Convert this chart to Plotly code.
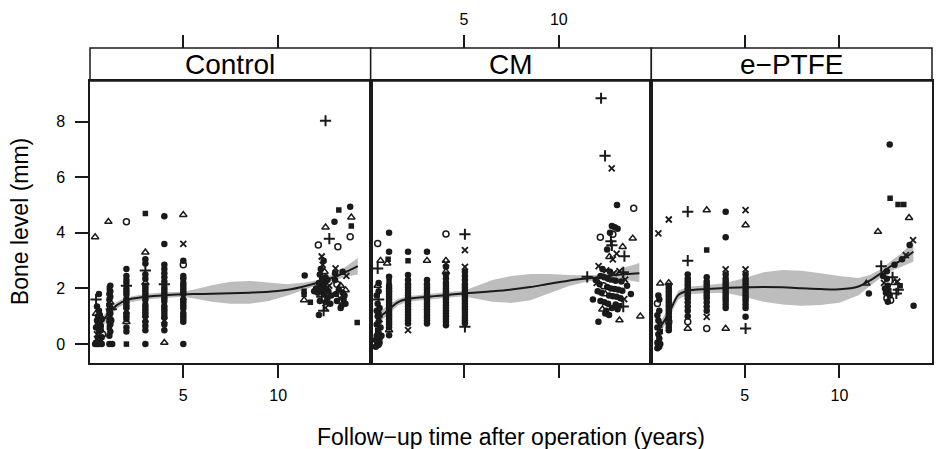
import plotly.graph_objects as go

# ---------------- data ----------------
PANELS = ["Control", "CM", "e\u2212PTFE"]
X_TICKS = [5, 10]
Y_TICKS = [0, 2, 4, 6, 8]

# points: (years, bone level mm, symbol code)
CTRL_PTS = [
    (0.45,0.00,'d'),(0.55,0.00,'d'),(0.65,0.02,'d'),(0.40,0.05,'s'),(0.60,0.10,'d'),(0.50,0.20,'d'),
    (0.70,0.25,'d'),(0.45,0.35,'x'),(0.55,0.45,'d'),(0.65,0.50,'d'),(0.40,0.60,'d'),(0.50,0.70,'d'),
    (0.60,0.75,'s'),(0.45,0.85,'d'),(0.70,0.90,'d'),(0.50,1.00,'d'),(0.60,1.05,'d'),(0.40,1.10,'t'),
    (0.55,1.20,'d'),(0.45,1.35,'d'),(0.40,1.60,'p'),(0.55,1.80,'d'),(0.35,3.85,'t'),(0.70,0.00,'d'),
    (0.35,0.00,'d'),(0.65,0.65,'d'),(0.75,0.35,'o'),
    (1.10,0.00,'d'),(1.25,0.00,'d'),(1.10,0.30,'d'),(1.15,0.45,'d'),(1.10,0.60,'s'),(1.15,0.70,'d'),
    (1.10,0.80,'d'),(1.15,0.90,'d'),(1.10,1.00,'x'),(1.15,1.10,'d'),(1.10,1.20,'d'),(1.15,1.30,'d'),
    (1.10,1.40,'d'),(1.15,1.50,'t'),(1.10,1.60,'d'),(1.15,1.70,'d'),(1.10,1.80,'d'),(1.15,1.90,'d'),
    (1.10,2.00,'s'),(1.15,2.10,'d'),(1.05,4.40,'t'),(1.20,1.25,'p'),(1.20,0.85,'d'),
    (2.0,0.00,'s'),(2.0,0.45,'d'),(2.0,0.60,'d'),(2.0,0.80,'t'),(2.0,0.90,'d'),(2.0,1.00,'d'),
    (2.0,1.10,'d'),(2.0,1.20,'x'),(2.0,1.30,'d'),(2.0,1.40,'d'),(2.0,1.50,'d'),(2.0,1.60,'d'),
    (2.0,1.70,'s'),(2.0,1.80,'d'),(2.0,1.90,'d'),(2.0,2.00,'d'),(2.0,2.10,'p'),(2.0,2.20,'d'),
    (2.0,2.30,'d'),(2.0,2.45,'d'),(2.0,2.70,'d'),(2.0,4.40,'o'),
    (3.0,0.00,'d'),(3.0,0.50,'d'),(3.0,0.65,'d'),(3.0,0.80,'d'),(3.0,0.90,'x'),(3.0,1.00,'d'),
    (3.0,1.10,'d'),(3.0,1.20,'d'),(3.0,1.30,'d'),(3.0,1.40,'d'),(3.0,1.50,'s'),(3.0,1.60,'d'),
    (3.0,1.70,'d'),(3.0,1.80,'d'),(3.0,1.90,'d'),(3.0,2.00,'d'),(3.0,2.10,'d'),(3.0,2.20,'t'),
    (3.0,2.35,'d'),(3.0,2.50,'d'),(3.0,2.65,'p'),(3.0,2.90,'d'),(3.0,3.05,'d'),(3.0,3.30,'t'),
    (3.0,4.70,'s'),
    (4.0,0.05,'t'),(4.0,0.50,'d'),(4.0,0.70,'d'),(4.0,0.85,'x'),(4.0,0.95,'d'),(4.0,1.05,'d'),
    (4.0,1.15,'d'),(4.0,1.25,'d'),(4.0,1.35,'d'),(4.0,1.45,'s'),(4.0,1.55,'d'),(4.0,1.65,'d'),
    (4.0,1.75,'d'),(4.0,1.85,'d'),(4.0,1.95,'d'),(4.0,2.05,'d'),(4.0,2.15,'p'),(4.0,2.25,'d'),
    (4.0,2.40,'d'),(4.0,2.55,'d'),(4.0,2.70,'d'),(4.0,2.85,'d'),(4.0,3.60,'d'),(4.0,4.60,'d'),
    (5.0,0.00,'d'),(5.0,0.80,'d'),(5.0,0.90,'d'),(5.0,1.00,'d'),(5.0,1.10,'d'),(5.0,1.20,'s'),
    (5.0,1.30,'d'),(5.0,1.40,'d'),(5.0,1.50,'d'),(5.0,1.60,'d'),(5.0,1.70,'x'),(5.0,1.80,'d'),
    (5.0,1.90,'d'),(5.0,2.00,'d'),(5.0,2.10,'d'),(5.0,2.20,'d'),(5.0,2.35,'d'),(5.0,2.45,'d'),
    (5.0,2.85,'o'),(5.0,3.00,'d'),(5.0,3.60,'x'),(5.0,4.65,'t'),
    (12.50,8.03,'p'),(13.20,4.82,'s'),(13.80,4.94,'d'),(13.86,4.56,'t'),(13.86,4.25,'s'),(12.97,4.40,'d'),
    (12.50,4.20,'t'),(12.12,3.56,'o'),(12.70,3.79,'p'),(13.15,3.50,'o'),(13.80,3.86,'o'),(11.40,2.47,'d'),
    (11.37,1.90,'s'),(11.37,1.78,'s'),(11.37,1.58,'t'),(11.70,1.50,'s'),(14.17,0.78,'s'),(12.15,1.05,'d'),
    (12.40,1.20,'p'),(12.50,1.30,'x'),(12.30,3.15,'x'),(12.40,3.00,'d'),(12.35,2.85,'x'),(12.25,2.70,'d'),
    (12.45,2.60,'t'),(12.20,2.50,'d'),(12.50,2.40,'d'),(12.30,2.35,'s'),(12.60,2.30,'d'),(12.15,2.20,'d'),
    (12.40,2.15,'d'),(12.70,2.10,'x'),(12.25,2.05,'d'),(12.55,2.00,'d'),(12.35,1.95,'s'),(12.65,1.90,'d'),
    (12.10,1.85,'d'),(12.45,1.80,'d'),(12.80,1.75,'d'),(12.30,1.70,'p'),(12.60,1.65,'d'),(12.20,1.55,'d'),
    (12.50,1.50,'d'),(12.75,1.45,'d'),(12.00,2.00,'d'),(11.90,1.90,'d'),(13.00,2.30,'d'),(13.10,2.15,'o'),
    (13.30,2.10,'t'),(13.20,1.95,'d'),(13.40,1.85,'d'),(13.05,1.80,'d'),(13.50,1.75,'d'),(13.25,1.65,'x'),
    (13.45,1.60,'d'),(13.10,1.55,'d'),(13.55,1.45,'d'),(13.35,1.40,'d'),(13.60,2.45,'x'),(13.40,2.60,'d'),
    (13.00,2.55,'d'),(13.03,2.72,'x'),(13.56,1.94,'t'),(13.30,1.30,'d'),
]

CM_PTS = [
    (0.40,-0.05,'d'),(0.50,-0.02,'d'),(0.45,0.10,'d'),(0.55,0.20,'d'),(0.40,0.30,'d'),(0.50,0.40,'d'),
    (0.45,0.50,'s'),(0.60,0.60,'d'),(0.40,0.70,'d'),(0.50,0.80,'d'),(0.55,0.90,'x'),(0.45,1.00,'d'),
    (0.50,1.10,'d'),(0.40,1.20,'d'),(0.55,1.30,'d'),(0.45,1.45,'d'),(0.50,1.60,'p'),(0.40,1.75,'d'),
    (0.50,1.90,'d'),(0.45,2.10,'t'),(0.50,2.20,'d'),(0.45,2.72,'p'),(0.60,3.00,'t'),(0.45,3.62,'o'),
    (0.65,0.30,'d'),(0.35,0.15,'d'),(0.35,-0.10,'d'),(0.55,0.05,'d'),
    (1.05,0.32,'d'),(1.05,0.50,'t'),(1.05,0.60,'d'),(1.05,0.70,'d'),(1.05,0.80,'d'),(1.05,0.90,'d'),
    (1.05,1.00,'d'),(1.05,1.10,'d'),(1.05,1.20,'d'),(1.05,1.30,'d'),(1.05,1.40,'d'),(1.05,1.50,'d'),
    (1.05,1.60,'d'),(1.05,1.70,'d'),(1.05,1.80,'d'),(1.05,1.90,'d'),(1.05,2.00,'d'),(1.05,2.10,'d'),
    (1.05,2.25,'s'),(1.05,2.42,'d'),(0.95,2.90,'t'),(1.00,3.05,'s'),(1.05,3.32,'d'),(1.05,4.00,'d'),
    (2.05,0.50,'x'),(2.05,0.74,'d'),(2.05,0.85,'d'),(2.05,0.95,'d'),(2.05,1.05,'d'),(2.05,1.15,'d'),
    (2.05,1.25,'d'),(2.05,1.35,'d'),(2.05,1.45,'d'),(2.05,1.55,'d'),(2.05,1.65,'d'),(2.05,1.75,'d'),
    (2.05,1.85,'d'),(2.05,1.95,'d'),(2.05,2.05,'d'),(2.05,2.15,'d'),(2.05,2.30,'d'),(2.05,2.48,'d'),
    (2.05,3.00,'s'),(2.05,3.32,'d'),
    (3.05,0.74,'d'),(3.05,0.85,'d'),(3.05,0.95,'d'),(3.05,1.05,'d'),(3.05,1.15,'d'),(3.05,1.25,'d'),
    (3.05,1.35,'d'),(3.05,1.45,'d'),(3.05,1.55,'d'),(3.05,1.65,'d'),(3.05,1.75,'d'),(3.05,1.85,'d'),
    (3.05,1.95,'d'),(3.05,2.05,'d'),(3.05,2.15,'d'),(3.05,2.30,'d'),(3.05,3.00,'t'),(3.05,3.32,'d'),
    (4.05,0.68,'d'),(4.05,0.80,'d'),(4.05,0.90,'d'),(4.05,1.00,'d'),(4.05,1.10,'d'),(4.05,1.20,'d'),
    (4.05,1.30,'d'),(4.05,1.40,'d'),(4.05,1.50,'d'),(4.05,1.60,'d'),(4.05,1.70,'d'),(4.05,1.80,'d'),
    (4.05,1.90,'d'),(4.05,2.00,'d'),(4.05,2.10,'d'),(4.05,2.20,'d'),(4.05,2.35,'d'),(4.05,2.50,'d'),
    (4.05,2.60,'t'),(4.05,2.78,'d'),(4.05,2.90,'x'),(4.05,3.00,'t'),(4.05,3.96,'o'),
    (5.05,0.62,'p'),(5.05,0.75,'d'),(5.05,0.85,'d'),(5.05,0.95,'d'),(5.05,1.05,'d'),(5.05,1.15,'d'),
    (5.05,1.25,'d'),(5.05,1.35,'d'),(5.05,1.45,'d'),(5.05,1.55,'d'),(5.05,1.65,'d'),(5.05,1.75,'d'),
    (5.05,1.85,'d'),(5.05,1.95,'d'),(5.05,2.05,'d'),(5.05,2.15,'d'),(5.05,2.30,'d'),(5.05,2.45,'d'),
    (5.05,2.60,'d'),(5.05,2.78,'x'),(5.05,3.38,'x'),(5.05,3.95,'p'),
    (12.23,8.84,'p'),(12.44,6.77,'p'),(12.79,6.32,'x'),(13.07,5.00,'d'),(13.95,4.88,'o'),(12.80,4.25,'d'),
    (12.95,4.20,'d'),(13.10,4.15,'d'),(12.70,4.00,'d'),(12.19,3.84,'o'),(12.85,3.95,'o'),(12.75,3.70,'p'),
    (13.90,3.80,'t'),(13.37,3.50,'t'),(12.80,3.55,'p'),(13.46,3.16,'p'),(12.67,3.14,'t'),(12.85,3.05,'x'),
    (13.05,3.25,'x'),(12.55,3.40,'d'),
    (12.10,2.80,'x'),(12.30,2.70,'d'),(12.50,2.65,'x'),(12.70,2.60,'d'),(12.90,2.55,'x'),(13.20,2.62,'x'),
    (13.40,2.58,'p'),(12.20,2.45,'d'),(12.40,2.40,'d'),(12.60,2.35,'d'),(12.80,2.30,'s'),(13.00,2.28,'d'),
    (13.30,2.25,'d'),(13.50,2.32,'x'),(12.15,2.15,'d'),(12.35,2.10,'o'),(12.55,2.05,'d'),(12.75,2.00,'d'),
    (12.95,1.98,'d'),(13.15,1.95,'d'),(13.35,1.92,'d'),(12.05,1.90,'d'),(12.25,1.85,'d'),(12.45,1.80,'t'),
    (12.65,1.75,'d'),(12.85,1.72,'d'),(13.05,1.70,'d'),(13.25,1.65,'d'),(13.45,1.62,'x'),(12.20,1.55,'d'),
    (12.40,1.50,'d'),(12.60,1.45,'d'),(13.00,1.42,'d'),(13.20,1.38,'s'),(13.40,1.35,'p'),(12.30,1.25,'t'),
    (12.50,1.20,'d'),(12.80,1.30,'d'),(13.10,1.25,'d'),(12.45,1.10,'d'),(12.65,1.05,'d'),(11.80,1.60,'d'),
    (13.80,1.80,'d'),(12.09,0.80,'d'),(13.20,0.86,'t'),(14.30,1.00,'t'),(13.60,2.10,'d'),(11.95,2.30,'d'),
    (11.50,2.42,'p'),(12.00,2.20,'x'),
]

EP_PTS = [
    (0.40,-0.15,'d'),(0.50,-0.10,'d'),(0.45,-0.05,'d'),(0.55,0.00,'d'),(0.40,0.05,'d'),(0.50,0.20,'d'),
    (0.45,0.35,'d'),(0.55,0.45,'s'),(0.40,0.60,'d'),(0.50,0.70,'x'),(0.45,0.85,'d'),(0.40,1.04,'d'),
    (0.50,1.20,'d'),(0.40,1.46,'o'),(0.50,1.60,'d'),(0.45,1.75,'d'),(0.55,2.18,'t'),(0.45,3.98,'x'),
    (1.00,0.50,'d'),(1.00,0.60,'d'),(1.00,0.70,'d'),(1.00,0.80,'o'),(1.00,0.90,'d'),(1.00,1.00,'d'),
    (1.00,1.10,'d'),(1.00,1.20,'d'),(1.00,1.30,'d'),(1.00,1.40,'d'),(1.00,1.50,'d'),(1.00,1.60,'d'),
    (1.00,1.70,'d'),(1.00,1.80,'d'),(1.00,1.90,'d'),(1.00,2.00,'d'),(1.00,2.10,'d'),(1.00,2.20,'t'),
    (1.00,4.48,'x'),
    (2.00,0.56,'t'),(2.00,0.80,'o'),(2.00,1.00,'d'),(2.00,1.20,'d'),(2.00,1.35,'d'),(2.00,1.50,'d'),
    (2.00,1.65,'d'),(2.00,1.75,'d'),(2.00,1.85,'d'),(2.00,1.95,'d'),(2.00,2.05,'d'),(2.00,2.15,'d'),
    (2.00,2.25,'d'),(2.00,2.35,'d'),(2.00,2.50,'d'),(2.00,3.00,'p'),(2.00,4.76,'p'),
    (3.00,0.56,'o'),(3.00,0.98,'x'),(3.00,1.20,'d'),(3.00,1.35,'d'),(3.00,1.50,'d'),(3.00,1.65,'d'),
    (3.00,1.75,'d'),(3.00,1.85,'d'),(3.00,1.95,'d'),(3.00,2.05,'d'),(3.00,2.15,'d'),(3.00,2.25,'d'),
    (3.00,2.40,'d'),(3.00,3.38,'s'),(3.00,4.82,'t'),
    (4.00,0.56,'t'),(4.00,1.30,'d'),(4.00,1.42,'d'),(4.00,1.55,'d'),(4.00,1.65,'d'),(4.00,1.75,'d'),
    (4.00,1.85,'d'),(4.00,1.95,'d'),(4.00,2.05,'d'),(4.00,2.15,'d'),(4.00,2.25,'d'),(4.00,2.35,'d'),
    (4.00,2.50,'d'),(4.00,2.69,'x'),(4.00,3.84,'d'),(4.00,4.76,'d'),
    (5.05,0.56,'p'),(5.05,0.98,'d'),(5.05,1.30,'d'),(5.05,1.42,'d'),(5.05,1.55,'d'),(5.05,1.65,'d'),
    (5.05,1.75,'d'),(5.05,1.85,'d'),(5.05,1.95,'d'),(5.05,2.05,'d'),(5.05,2.15,'d'),(5.05,2.25,'d'),
    (5.05,2.35,'d'),(5.05,2.50,'d'),(5.05,2.69,'x'),(5.05,4.28,'t'),(5.05,4.82,'x'),
    (12.65,7.18,'d'),(12.67,5.24,'s'),(13.09,5.02,'s'),(13.39,5.02,'s'),(13.67,4.54,'t'),(12.03,4.04,'t'),
    (13.88,3.74,'x'),(13.70,3.56,'d'),(12.20,2.80,'p'),(11.55,1.82,'d'),(11.42,2.18,'t'),(13.91,1.38,'d'),
    (12.50,2.62,'d'),(12.90,2.85,'d'),(13.30,3.05,'d'),(13.50,3.20,'x'),
    (12.30,2.45,'d'),(12.50,2.35,'d'),(12.35,2.20,'x'),(12.55,2.10,'d'),(12.40,2.00,'d'),(12.60,1.92,'s'),
    (12.45,1.85,'d'),(12.65,1.75,'d'),(12.50,1.65,'o'),(12.70,1.58,'o'),(12.55,1.52,'d'),(12.90,2.20,'t'),
    (13.05,2.25,'x'),(13.20,2.10,'s'),(13.10,1.95,'p'),(13.00,1.82,'p'),(12.80,2.40,'p'),
]

# smooth fits: x, fitted value, upper and lower band
CTRL_FX = [0.5,1,1.5,2,3,4,5,5.5,6.5,7.5,8.5,9.5,10.5,11.5,12.3,13,13.6,14.2]
CTRL_FY = [0.55,1.05,1.40,1.58,1.70,1.76,1.79,1.80,1.81,1.83,1.85,1.88,1.95,2.10,2.25,2.42,2.60,2.80]
CTRL_FU = [0.75,1.22,1.52,1.68,1.80,1.86,1.88,1.95,2.12,2.24,2.27,2.22,2.15,2.22,2.33,2.55,2.80,3.10]
CTRL_FL = [0.35,0.88,1.28,1.48,1.60,1.66,1.70,1.65,1.52,1.45,1.45,1.55,1.75,1.98,2.17,2.30,2.42,2.50]

CM_FX = [0.5,1,1.5,2,3,4,5,5.5,6.5,7.5,8.5,9.5,10.5,11.5,12.3,13,13.6,14.25]
CM_FY = [0.95,1.22,1.50,1.62,1.70,1.76,1.82,1.85,1.90,1.96,2.05,2.17,2.28,2.36,2.42,2.48,2.52,2.55]
CM_FU = [1.15,1.38,1.62,1.72,1.80,1.86,1.92,2.05,2.30,2.45,2.52,2.52,2.48,2.47,2.50,2.62,2.78,2.92]
CM_FL = [0.75,1.06,1.38,1.52,1.60,1.66,1.72,1.65,1.52,1.48,1.58,1.82,2.08,2.25,2.34,2.36,2.30,2.22]

EP_FX = [0.45,1,1.5,2,3,4,5,6,7,8,9,10,11,11.6,12.2,12.7,13.3,13.9]
EP_FY = [0.50,1.10,1.76,1.92,1.98,2.02,2.04,2.05,2.04,2.01,1.98,1.97,2.07,2.28,2.55,2.80,3.03,3.32]
EP_FU = [0.70,1.28,1.92,2.06,2.12,2.20,2.38,2.58,2.66,2.64,2.55,2.45,2.38,2.48,2.70,2.98,3.28,3.68]
EP_FL = [0.30,0.92,1.60,1.78,1.84,1.84,1.70,1.52,1.42,1.38,1.41,1.49,1.76,2.08,2.40,2.62,2.78,2.96]

# ---------------- styling ----------------
FONT = "Liberation Sans, Arial, Helvetica, sans-serif"
INK = "#1a1a1a"
SYM = {
    "d": dict(symbol="circle", size=6.5, color=INK, line=dict(width=0)),
    "s": dict(symbol="square", size=5.5, color=INK, line=dict(width=0)),
    "p": dict(symbol="cross-thin-open", size=8, color=INK, line=dict(width=2, color=INK)),
    "x": dict(symbol="x-thin-open", size=6, color=INK, line=dict(width=1.8, color=INK)),
    "t": dict(symbol="triangle-up-open", size=6.5, color=INK, line=dict(width=1.5, color=INK)),
    "o": dict(symbol="circle-open", size=6, color=INK, line=dict(width=1.5, color=INK)),
}

fig = go.Figure()


def add_panel(pts, fx, fy, fu, fl, xa, ya):
    fig.add_trace(go.Scatter(x=fx + fx[::-1], y=fu + fl[::-1], fill="toself",
                             fillcolor="#bdbdbd", line=dict(width=0), mode="lines",
                             hoverinfo="skip", xaxis=xa, yaxis=ya, showlegend=False))
    for code, mk in SYM.items():
        px = [p[0] for p in pts if p[2] == code]
        py = [p[1] for p in pts if p[2] == code]
        if px:
            fig.add_trace(go.Scatter(x=px, y=py, mode="markers", marker=mk,
                                     xaxis=xa, yaxis=ya, showlegend=False))
    fig.add_trace(go.Scatter(x=fx, y=fy, mode="lines",
                             line=dict(color=INK, width=2, shape="spline", smoothing=0.8),
                             xaxis=xa, yaxis=ya, showlegend=False))


add_panel(CTRL_PTS, CTRL_FX, CTRL_FY, CTRL_FU, CTRL_FL, "x", "y")
add_panel(CM_PTS, CM_FX, CM_FY, CM_FU, CM_FL, "x2", "y2")
add_panel(EP_PTS, EP_FX, EP_FY, EP_FU, EP_FL, "x3", "y3")

XR = [0.08, 14.88]
YR = [-0.68, 9.46]
YTOP = 282 / 315
W, H = 936, 449
L, R, T, B = 90, 2, 48, 86

# invisible anchors so the top (strip) axes get drawn
for xa, ya in (("x4", "y"), ("x5", "y2"), ("x6", "y3")):
    fig.add_trace(go.Scatter(x=X_TICKS, y=[YR[0], YR[0]], mode="markers",
                             marker=dict(opacity=0), hoverinfo="skip",
                             xaxis=xa, yaxis=ya, showlegend=False))

TICKFONT = dict(size=16, color="black", family=FONT)
common_x = dict(range=XR, tickvals=X_TICKS, ticks="outside", ticklen=13, tickwidth=1.5,
                tickcolor=INK, showgrid=False, zeroline=False, tickfont=TICKFONT,
                ticklabelstandoff=4)
bottom_x = dict(common_x, showline=True, mirror=True, linecolor=INK, linewidth=1.5)
top_x = dict(common_x, showline=False, anchor="free", position=1, side="top")
doms = [[0, 1 / 3], [1 / 3, 2 / 3], [2 / 3, 1]]

common_y = dict(range=YR, domain=[0, YTOP], showgrid=False, zeroline=False, showline=True,
                mirror=True, linecolor=INK, linewidth=1.5)

fig.update_layout(
    width=W, height=H, margin=dict(l=L, r=R, t=T, b=B),
    paper_bgcolor="white", plot_bgcolor="white",
    font=dict(family=FONT, color="black"),
    xaxis=dict(bottom_x, domain=doms[0], anchor="y", showticklabels=True),
    xaxis2=dict(bottom_x, domain=doms[1], anchor="y2", showticklabels=False),
    xaxis3=dict(bottom_x, domain=doms[2], anchor="y3", showticklabels=True),
    xaxis4=dict(top_x, domain=doms[0], overlaying="x", showticklabels=False),
    xaxis5=dict(top_x, domain=doms[1], overlaying="x2", showticklabels=True),
    xaxis6=dict(top_x, domain=doms[2], overlaying="x3", showticklabels=False),
    yaxis=dict(common_y, anchor="x", tickvals=Y_TICKS, ticks="outside", ticklen=13, tickwidth=1.5,
               tickcolor=INK, tickfont=TICKFONT, ticklabelstandoff=7),
    yaxis2=dict(common_y, anchor="x2", matches="y", showticklabels=False, ticks=""),
    yaxis3=dict(common_y, anchor="x3", matches="y", showticklabels=False, ticks=""),
    showlegend=False,
)

for i, name in enumerate(PANELS):
    fig.add_shape(type="rect", xref="paper", yref="paper", x0=doms[i][0], x1=doms[i][1],
                  y0=YTOP, y1=1, line=dict(color=INK, width=1.5), fillcolor="white", layer="below")
    fig.add_annotation(xref="paper", yref="paper", x=sum(doms[i]) / 2, y=(YTOP + 1) / 2,
                       text=name, showarrow=False, xanchor="center", yanchor="middle",
                       font=dict(size=28, color="black", family=FONT))

fig.add_annotation(xref="paper", yref="paper", x=0.5, y=-74 / 315,
                   text="Follow\u2212up time after operation (years)", showarrow=False,
                   xanchor="center", yanchor="middle", font=dict(size=23, color="black", family=FONT))
fig.add_annotation(xref="paper", yref="paper", x=-70 / 844, y=141 / 315,
                   text="Bone level (mm)", showarrow=False, textangle=-90,
                   xanchor="center", yanchor="middle", font=dict(size=23, color="black", family=FONT))

fig.write_html("out.html")
